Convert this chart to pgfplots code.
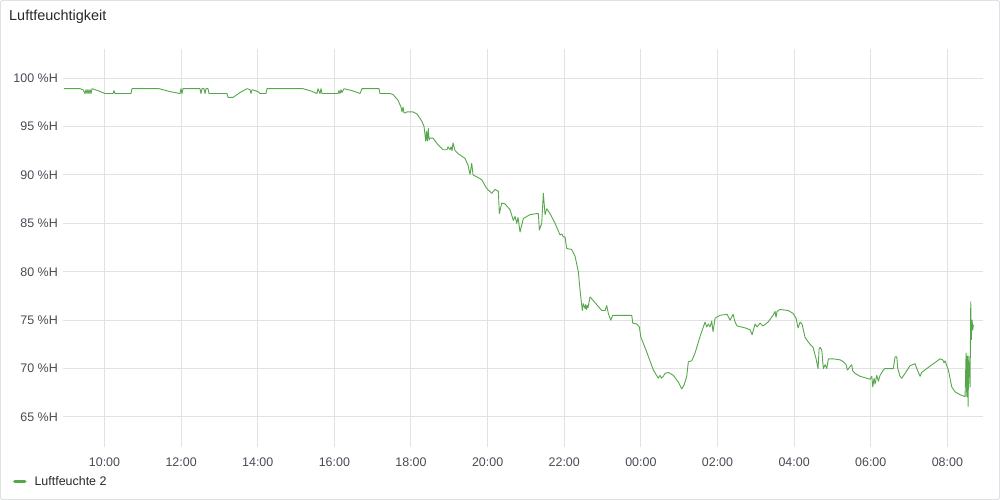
\documentclass[border=0pt]{standalone}
\usepackage{fontspec}
\setmainfont{Liberation Sans}
\usepackage{pgfplots}
\pgfplotsset{compat=1.18}
\definecolor{linegreen}{HTML}{56A64B}
\definecolor{gridc}{HTML}{E2E2E2}
\definecolor{framec}{HTML}{E0E1E2}
\definecolor{ticktext}{HTML}{464C54}
\definecolor{titletext}{HTML}{24292E}

% Luftfeuchte 2: hours since midnight of day 1 (24+ = next day), %H
\pgfplotstableread{
h v
8.943 98.9
9.360 98.9
9.439 98.8
9.491 98.4
9.517 98.8
9.543 98.4
9.569 98.8
9.595 98.4
9.622 98.8
9.648 98.4
9.674 98.9
9.830 98.7
10.013 98.4
10.222 98.4
10.248 98.7
10.274 98.4
10.692 98.4
10.718 98.9
11.423 98.9
11.710 98.6
11.971 98.4
11.997 98.9
12.023 98.4
12.049 98.9
12.493 98.9
12.519 98.4
12.545 98.9
12.597 98.9
12.623 98.4
12.649 98.9
12.702 98.9
12.728 98.4
13.198 98.4
13.224 98.0
13.354 98.0
13.537 98.5
13.720 98.9
13.798 98.8
13.824 98.4
13.850 98.8
14.006 98.6
14.059 98.4
14.215 98.4
14.241 98.9
15.181 98.9
15.364 98.7
15.547 98.4
15.573 98.9
15.625 98.4
15.651 98.9
15.677 98.4
16.095 98.4
16.121 98.7
16.147 98.4
16.173 98.8
16.199 98.5
16.251 98.9
16.460 98.7
16.669 98.4
16.721 98.9
17.165 98.9
17.191 98.4
17.452 98.4
17.531 98.3
17.661 97.7
17.740 97.0
17.766 96.5
17.792 97.0
17.818 96.4
17.844 96.4
17.896 96.5
18.053 96.5
18.157 96.3
18.288 95.5
18.340 95.0
18.384 93.5
18.405 94.5
18.426 93.5
18.452 94.8
18.471 93.6
18.497 93.8
18.575 93.8
18.706 93.1
18.836 92.6
18.940 92.6
18.967 92.9
19.019 92.6
19.045 92.9
19.071 92.5
19.097 93.3
19.150 92.5
19.228 92.2
19.411 91.7
19.489 91.0
19.541 90.05
19.585 91.2
19.619 90.0
19.716 89.8
19.846 89.5
19.977 88.6
20.107 88.1
20.193 88.5
20.280 88.3
20.306 86.0
20.368 87.1
20.454 87.0
20.585 86.4
20.671 85.3
20.716 85.7
20.760 85.0
20.794 85.6
20.846 84.1
20.933 85.5
21.108 85.9
21.282 86.0
21.324 86.0
21.350 84.3
21.412 85.0
21.454 88.1
21.499 85.9
21.543 86.5
21.629 86.0
21.760 85.0
21.890 83.8
21.934 83.9
21.976 83.6
22.020 83.6
22.065 82.4
22.195 82.3
22.282 81.6
22.368 80.0
22.412 78.1
22.472 76.0
22.498 76.7
22.543 76.2
22.560 76.6
22.582 76.1
22.600 76.5
22.621 76.3
22.673 77.4
22.848 76.6
22.978 76.0
23.065 76.0
23.109 76.5
23.151 75.7
23.213 75.0
23.266 75.5
23.762 75.5
23.788 74.7
23.892 74.6
23.960 74.3
23.996 73.3
24.153 71.7
24.325 69.85
24.456 69.0
24.500 69.3
24.540 69.0
24.586 69.2
24.631 69.5
24.717 69.6
24.848 69.3
24.978 68.6
25.067 67.9
25.127 68.3
25.197 69.2
25.239 70.7
25.328 70.8
25.414 71.6
25.544 73.3
25.675 74.8
25.720 74.3
25.761 74.6
25.806 74.3
25.850 74.9
25.884 73.8
25.936 75.2
26.067 75.5
26.249 75.6
26.328 75.0
26.406 75.6
26.459 74.8
26.511 74.4
26.720 74.2
26.850 74.0
26.903 73.5
26.981 74.6
27.033 74.3
27.111 74.7
27.189 74.4
27.320 74.8
27.450 75.5
27.502 75.9
27.528 75.3
27.554 75.9
27.633 76.1
27.842 76.0
27.972 75.7
28.051 75.2
28.103 74.2
28.155 74.8
28.207 74.6
28.286 73.2
28.417 72.5
28.495 72.2
28.573 71.0
28.625 70.0
28.651 72.0
28.678 72.2
28.722 71.9
28.763 70.0
28.808 70.4
28.852 70.0
28.893 71.0
29.024 71.0
29.199 70.9
29.285 70.7
29.356 70.4
29.390 69.85
29.460 70.2
29.504 70.4
29.530 69.75
29.590 69.5
29.721 69.2
29.896 69.0
29.982 68.9
30.027 69.2
30.053 68.1
30.087 69.0
30.113 68.4
30.157 69.3
30.199 68.7
30.243 69.3
30.329 69.85
30.373 70.0
30.590 70.0
30.634 71.2
30.679 71.2
30.705 70.0
30.765 69.2
30.809 69.0
30.895 69.5
31.026 70.3
31.156 70.5
31.201 70.0
31.287 69.2
31.331 69.6
31.462 70.0
31.634 70.5
31.809 71.0
31.880 70.9
31.913 70.6
31.939 70.8
32.026 69.85
32.115 68.1
32.201 67.6
32.331 67.3
32.462 67.1
32.488 71.6
32.506 67.1
32.522 71.3
32.540 66.1
32.558 71.3
32.574 70.0
32.592 68.1
32.610 76.9
32.626 73.0
32.644 75.0
32.663 74.0
32.679 74.5
}\humidity

\begin{document}
\begin{tikzpicture}
\draw[framec, line width=1bp, rounded corners=2bp] (0.5bp,0.5bp) rectangle (999.5bp,499.5bp);
\node[anchor=west, inner sep=0pt, text=titletext, font=\fontsize{14.5}{17}\selectfont] at (9bp,483bp) {Luftfeuchtigkeit};
\begin{axis}[
    at={(63bp,53bp)}, anchor=south west,
    width=920bp, height=398bp, scale only axis,
    xmin=8.917, xmax=32.93,
    ymin=61.9, ymax=103,
    axis line style={draw=none},
    major tick length=0pt,
    grid=major,
    grid style={gridc, line width=1bp},
    xtick={10,12,...,32},
    xticklabels={10:00,12:00,14:00,16:00,18:00,20:00,22:00,00:00,02:00,04:00,06:00,08:00},
    ytick={65,70,...,100},
    yticklabel={\pgfmathprintnumber{\tick}~\%H},
    /pgf/number format/assume math mode=true,
    ticklabel style={font=\fontsize{12.5}{15}\selectfont, text=ticktext, inner sep=0pt},
    xticklabel style={anchor=base, yshift=-19bp},
    yticklabel style={anchor=east, xshift=-5bp},
    legend style={at={(axis description cs:-0.0545,-0.0862)}, anchor=west,
        draw=none, fill=none, inner sep=0pt,
        font=\fontsize{12.5}{15}\selectfont, text=titletext,
        /tikz/every odd column/.append style={column sep=6bp}},
    legend image code/.code={\draw[linegreen, line width=3.5bp, line cap=round] (0bp,0bp) -- (10bp,0bp);},
    clip=false,
]
\addplot[linegreen, line width=0.9bp, line join=round] table[x=h, y=v] {\humidity};
\addlegendentry{Luftfeuchte 2}
\end{axis}
\end{tikzpicture}
\end{document}
